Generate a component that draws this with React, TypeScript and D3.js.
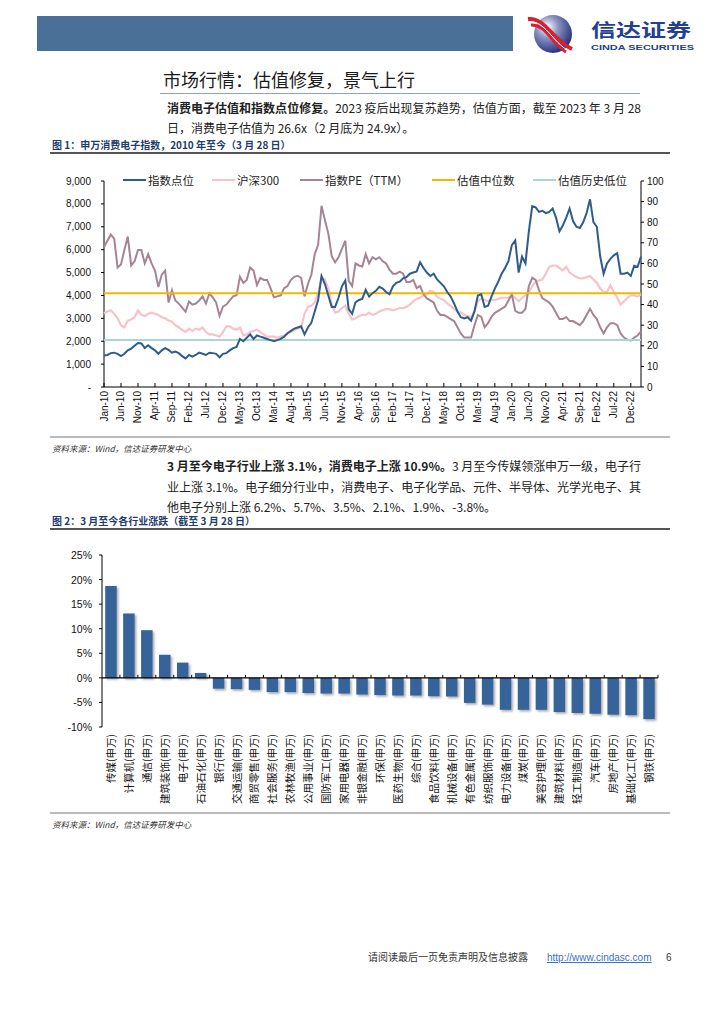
import React from "react";
import * as d3 from "d3";

// ---------- 图1：申万消费电子指数（月度，Jan-10 ~ Mar-23）
const months: string[] = d3.range(159).map((i) => d3.timeFormat("%b-%y")(new Date(2010, i, 1)));

const indexPoints = [
  1380, 1400, 1480, 1500, 1450, 1350, 1450, 1600, 1680, 1800,
  1920, 1900, 1700, 1820, 1700, 1600, 1450, 1600, 1700, 1620,
  1500, 1550, 1480, 1350, 1250, 1400, 1330, 1400, 1500, 1450,
  1400, 1500, 1480, 1450, 1300, 1450, 1480, 1600, 1700, 1750,
  2100, 2000, 2150, 2300, 2100, 2250, 2200, 2150, 2100, 2050,
  2000, 2050, 2100, 2200, 2350, 2450, 2550, 2600, 2650, 2300,
  2600, 2800, 3300, 3800, 4850, 4500, 4000, 3500, 3500, 3900,
  4400, 4650, 3400, 3200, 3700, 3800, 3850, 4250, 3950, 4100,
  4200, 4380, 4300, 4150, 4050, 4400, 4550, 4600, 4750, 4800,
  4950, 5000, 5050, 5450, 5200, 5000, 4850, 4950, 4700, 4550,
  4400, 4150, 3950, 3650, 3300, 3050, 3000, 3050, 2900, 3300,
  4000, 4050, 3500, 3550, 3950, 4300, 4600, 4950, 5200, 5500,
  6200, 6400, 5000, 5700, 5400, 6800, 7900, 7850, 7650, 7700,
  7600, 7650, 7800, 7400, 6800, 7050, 7400, 7800, 7250, 7000,
  6950, 7200, 7600, 8200, 7200, 7000, 5700, 4950, 5400, 5600,
  5750, 5850, 4950, 4950, 5000, 4850, 5300, 5250, 5700,
];

const hs300 = [
  3220, 3300, 3350, 3200, 3000, 2700, 2600, 2900, 2950, 3050,
  3350, 3150, 3100, 3200, 3250, 3200, 3150, 3050, 3000, 2900,
  2850, 2700, 2600, 2500, 2400, 2550, 2450, 2550, 2500, 2600,
  2400, 2300, 2300, 2250, 2200, 2400, 2650, 2650, 2550, 2500,
  2600, 2250, 2300, 2400, 2450, 2500, 2400, 2300, 2200, 2200,
  2200, 2150, 2200, 2250, 2350, 2400, 2500, 2550, 2600, 3200,
  3500, 3550, 3700, 4100, 4750, 4700, 4300, 3600, 3250, 3300,
  3450, 3550, 3200, 2950, 3000, 3100, 3150, 3150, 3250, 3150,
  3200, 3300, 3350, 3400, 3400, 3350, 3400, 3450, 3450, 3500,
  3600, 3750, 3850, 3900, 4000, 4050, 4200, 4150, 3950, 3850,
  3800, 3650, 3550, 3400, 3300, 3250, 3150, 3100, 3050, 3300,
  3750, 3850, 3800, 3750, 3800, 3800, 3850, 3900, 3900, 3900,
  4000, 3900, 3750, 3900, 4000, 4150, 4400, 4600, 4650, 4700,
  4950, 5250, 5300, 5300, 5200, 5100, 5250, 5000, 4900, 4800,
  4750, 4750, 4800, 4850, 4700, 4550, 4300, 4150, 4150, 4450,
  4150, 3900, 3600, 3750, 3900, 4000, 4000, 3950, 4050,
];

const indexPE = [
  67.8, 71, 74, 72, 58, 59.5, 66.5, 73, 59, 61,
  66.5, 66.5, 60, 64.5, 60, 56.5, 48.5, 54.5, 56.5, 41,
  47, 42, 40.5, 38.5, 36.5, 41.5, 40, 40.5, 42, 44,
  40.5, 45.5, 43.5, 41, 34.5, 39, 40, 42, 44, 44.5,
  53.5, 50.5, 52, 58, 56.5, 49.5, 53, 52, 52, 48,
  43.5, 44, 44.5, 48, 49, 52, 53.5, 54, 53, 44,
  50, 54.5, 64.5, 69, 88, 81, 74.5, 63.5, 60.5, 63,
  67, 71, 51.5, 49, 60, 59, 58.5, 64.5, 60, 63,
  62, 63, 61, 60, 57, 55, 55, 56, 55, 51,
  51, 52, 48, 49, 45, 43, 42, 41, 37, 35,
  35, 34, 33, 32, 29, 26, 24, 24, 24, 30,
  35, 34, 29, 31, 34, 36, 37, 38, 39, 42,
  45, 37, 36, 36, 38, 49, 53, 52, 47, 43,
  42, 41, 39, 36, 33, 33, 34, 32, 32, 31,
  30, 32, 35, 38, 35, 33, 29, 26, 29, 31,
  31, 30, 26, 24, 23, 22.5, 24, 25, 27,
];

const peMedian = 45.5;
const peLow = 22.8;

const leftTicks = [0, 1000, 2000, 3000, 4000, 5000, 6000, 7000, 8000, 9000];
const rightTicks = [0, 10, 20, 30, 40, 50, 60, 70, 80, 90, 100];

const legendNames = ["指数点位", "沪深300", "指数PE（TTM）", "估值中位数", "估值历史低位"];
const legendColors = ["#2d5c8e", "#f6c3ca", "#a58595", "#f2b800", "#a9d5d8"];

// ---------- 图2：3月至今各行业涨跌
const industries = [
  "传媒", "计算机", "通信", "建筑装饰", "电子", "石油石化", "银行", "交通运输",
  "商贸零售", "社会服务", "农林牧渔", "公用事业", "国防军工", "家用电器", "非银金融", "环保",
  "医药生物", "综合", "食品饮料", "机械设备", "有色金属", "纺织服饰", "电力设备", "煤炭",
  "美容护理", "建筑材料", "轻工制造", "汽车", "房地产", "基础化工", "钢铁",
];
const changes = [
  18.7, 13.1, 9.7, 4.7, 3.1, 1.0, -2.2, -2.3,
  -2.45, -2.9, -2.9, -3.1, -3.2, -3.2, -3.4, -3.5,
  -3.6, -3.6, -3.75, -3.8, -5.1, -5.45, -6.5, -6.5,
  -6.5, -6.95, -7.15, -7.3, -7.5, -7.6, -8.4,
];
const pctTicks = [-10, -5, 0, 5, 10, 15, 20, 25];

const CJK = '"Noto Sans CJK SC", "Noto Sans", sans-serif';
const NUM = '"Liberation Sans", Arial, sans-serif';

export default function App() {
  // chart 1 scales
  const x1 = d3.scalePoint<string>().domain(months).range([104, 641]);
  const yL = d3.scaleLinear().domain([0, 9000]).range([387, 181]);
  const yR = d3.scaleLinear().domain([0, 100]).range([387, 181]);
  const lineL = d3.line<number>().x((_, i) => x1(months[i])!).y((d) => yL(d));
  const lineR = d3.line<number>().x((_, i) => x1(months[i])!).y((d) => yR(d));
  const x0 = x1.range()[0];
  const xEnd = x1.range()[1];
  const tickMonths = months.filter((_, i) => i % 5 === 0);

  // chart 2 scales
  const x2 = d3.scaleBand<string>().domain(industries).range([102, 658]).paddingInner(0.36).paddingOuter(0.18);
  const y2 = d3.scaleLinear().domain([-10, 25]).range([727, 555]);
  const bandStep = x2.step();

  const legendX = [123, 212, 300, 432, 533];

  return (
    <svg width={724} height={1024} style={{ position: "absolute", left: 0, top: 0, background: "#fff" }}>
      <defs>
        <radialGradient id="logoGrad" cx="35%" cy="32%" r="75%">
          <stop offset="0%" stopColor="#ffffff" />
          <stop offset="40%" stopColor="#8690c0" />
          <stop offset="100%" stopColor="#1b2874" />
        </radialGradient>
        <filter id="barShadow" x="-30%" y="-30%" width="180%" height="180%">
          <feDropShadow dx="1.6" dy="1.6" stdDeviation="1" floodColor="#000" floodOpacity="0.35" />
        </filter>
      </defs>

      {/* header */}
      <rect x={37} y={16} width={476} height={35} fill="#4b7098" />
      <circle cx={553} cy={34} r={19} fill="url(#logoGrad)" />
      <path d="M528,19 C545,17 552,40 572,49" fill="none" stroke="#d8202f" strokeWidth={4} />
      <path d="M531,25 C546,24 552,44 566,52" fill="none" stroke="#d8202f" strokeWidth={3} />
      <path d="M529,22 C545,20 552,42 569,51" fill="none" stroke="#fff" strokeWidth={1} />
      <text x={591} y={37} fontFamily={CJK} fontSize={18} fontWeight={700} fill="#233f91" textLength={100} lengthAdjust="spacingAndGlyphs">
        信达证券
      </text>
      <text x={591} y={49.5} fontFamily={NUM} fontSize={8} fontWeight={700} fill="#233f91" textLength={103} lengthAdjust="spacingAndGlyphs">
        CINDA SECURITIES
      </text>

      {/* title */}
      <text x={163} y={87} fontFamily={CJK} fontSize={18} fill="#1a1a1a">市场行情：估值修复，景气上行</text>
      <line x1={160} x2={640} y1={93.5} y2={93.5} stroke="#8ea2b9" strokeWidth={1.2} />

      <text x={167} y={113} fontFamily={CJK} fontSize={12} fill="#222" textLength={474} lengthAdjust="spacing">
        <tspan fontWeight={700}>消费电子估值和指数点位修复。</tspan>
        <tspan>2023 疫后出现复苏趋势，估值方面，截至 2023 年 3 月 28</tspan>
      </text>
      <text x={167} y={133} fontFamily={CJK} fontSize={12} fill="#222">日，消费电子估值为 26.6x（2 月底为 24.9x）。</text>

      {/* figure 1 caption */}
      <text x={52} y={149} fontFamily={CJK} fontSize={10} fontWeight={700} fill="#1f3d6b">
        图 1：申万消费电子指数，2010 年至今（3 月 28 日）
      </text>
      <line x1={50} x2={670} y1={153} y2={153} stroke="#555" strokeWidth={1.8} />

      {/* chart 1 axes */}
      <g fontFamily={NUM} fontSize={10} fill="#111">
        {leftTicks.map((t) => (
          <g key={"l" + t}>
            <line x1={x0 - 3} x2={x0} y1={yL(t)} y2={yL(t)} stroke="#000" />
            <text x={91} y={yL(t) + 3.5} textAnchor="end">{t === 0 ? "-" : d3.format(",")(t)}</text>
          </g>
        ))}
        {rightTicks.map((t) => (
          <g key={"r" + t}>
            <line x1={xEnd} x2={xEnd + 3} y1={yR(t)} y2={yR(t)} stroke="#000" />
            <text x={647} y={yR(t) + 3.5}>{t}</text>
          </g>
        ))}
        {tickMonths.map((m) => (
          <g key={m}>
            <line x1={x1(m)} x2={x1(m)} y1={387} y2={383} stroke="#000" />
            <text transform={`translate(${x1(m)! + 3.5},391) rotate(-90)`} textAnchor="end">{m}</text>
          </g>
        ))}
        <line x1={x0} x2={x0} y1={181} y2={387} stroke="#000" />
        <line x1={xEnd} x2={xEnd} y1={181} y2={387} stroke="#000" />
        <line x1={x0} x2={xEnd} y1={387} y2={387} stroke="#000" />
      </g>

      {/* chart 1 series */}
      <path d={lineL(hs300)!} fill="none" stroke={legendColors[1]} strokeWidth={2.2} />
      <path d={lineR(indexPE)!} fill="none" stroke={legendColors[2]} strokeWidth={2} />
      <line x1={x0} x2={xEnd} y1={yR(peLow)} y2={yR(peLow)} stroke={legendColors[4]} strokeWidth={2} />
      <line x1={x0} x2={xEnd} y1={yR(peMedian)} y2={yR(peMedian)} stroke={legendColors[3]} strokeWidth={2} />
      <path d={lineL(indexPoints)!} fill="none" stroke={legendColors[0]} strokeWidth={2} />

      {/* legend */}
      <g fontFamily={CJK} fontSize={11.5} fill="#222">
        {legendNames.map((n, i) => (
          <g key={n}>
            <line x1={legendX[i]} x2={legendX[i] + 23} y1={180} y2={180} stroke={legendColors[i]} strokeWidth={2} />
            <text x={legendX[i] + 25} y={184.5}>{n}</text>
          </g>
        ))}
      </g>

      {/* source 1 */}
      <line x1={50} x2={670} y1={437} y2={437} stroke="#777" strokeWidth={1.2} />
      <text x={52} y={452} fontFamily={CJK} fontSize={8.5} fontStyle="italic" fill="#333">资料来源：Wind，信达证券研发中心</text>

      {/* paragraph 2 */}
      <text x={167} y={471} fontFamily={CJK} fontSize={12} fill="#222" textLength={474} lengthAdjust="spacing">
        <tspan fontWeight={700}>3 月至今电子行业上涨 3.1%，消费电子上涨 10.9%。</tspan>
        <tspan>3 月至今传媒领涨申万一级，电子行</tspan>
      </text>
      <text x={167} y={492} fontFamily={CJK} fontSize={12} fill="#222" textLength={474} lengthAdjust="spacing">
        业上涨 3.1%。电子细分行业中，消费电子、电子化学品、元件、半导体、光学光电子、其
      </text>
      <text x={167} y={512} fontFamily={CJK} fontSize={12} fill="#222">
        他电子分别上涨 6.2%、5.7%、3.5%、2.1%、1.9%、-3.8%。
      </text>

      {/* figure 2 caption */}
      <text x={52} y={525} fontFamily={CJK} fontSize={10} fontWeight={700} fill="#1f3d6b">
        图 2：3 月至今各行业涨跌（截至 3 月 28 日）
      </text>
      <line x1={50} x2={670} y1={529} y2={529} stroke="#555" strokeWidth={1.8} />

      {/* chart 2 */}
      <g>
        {industries.map((n, i) => (
          <rect
            key={n}
            x={x2(n)}
            width={x2.bandwidth()}
            y={y2(Math.max(0, changes[i]))}
            height={Math.abs(y2(changes[i]) - y2(0))}
            fill="#35649a"
            filter="url(#barShadow)"
          />
        ))}
      </g>
      <g fontFamily={NUM} fontSize={10.5} fill="#111">
        {pctTicks.map((t) => (
          <g key={"p" + t}>
            <line x1={99} x2={102} y1={y2(t)} y2={y2(t)} stroke="#000" />
            <text x={92} y={y2(t) + 4} textAnchor="end">{t + "%"}</text>
          </g>
        ))}
      </g>
      <line x1={102} x2={102} y1={555} y2={727} stroke="#000" />
      <line x1={102} x2={658} y1={y2(0)} y2={y2(0)} stroke="#000" strokeWidth={1.2} />
      {industries.map((n, i) => (
        <line key={"t" + n} x1={102 + (i + 1) * bandStep} x2={102 + (i + 1) * bandStep} y1={y2(0) - 3} y2={y2(0)} stroke="#000" />
      ))}
      <g fontFamily={CJK} fontSize={10.5} fill="#111">
        {industries.map((n) => (
          <text key={"lab" + n} transform={`translate(${x2(n)! + x2.bandwidth() / 2 + 4},734) rotate(-90)`} textAnchor="end">
            {n + "(申万)"}
          </text>
        ))}
      </g>

      {/* source 2 */}
      <line x1={50} x2={670} y1={813} y2={813} stroke="#777" strokeWidth={1.2} />
      <text x={52} y={828} fontFamily={CJK} fontSize={8.5} fontStyle="italic" fill="#333">资料来源：Wind，信达证券研发中心</text>

      {/* footer */}
      <text x={368} y={961} fontFamily={CJK} fontSize={10} fill="#333">请阅读最后一页免责声明及信息披露</text>
      <text x={547} y={961} fontFamily={NUM} fontSize={10} fill="#3a6fd0" textDecoration="underline">http://www.cindasc.com</text>
      <text x={666} y={961} fontFamily={NUM} fontSize={10} fill="#333">6</text>
    </svg>
  );
}
